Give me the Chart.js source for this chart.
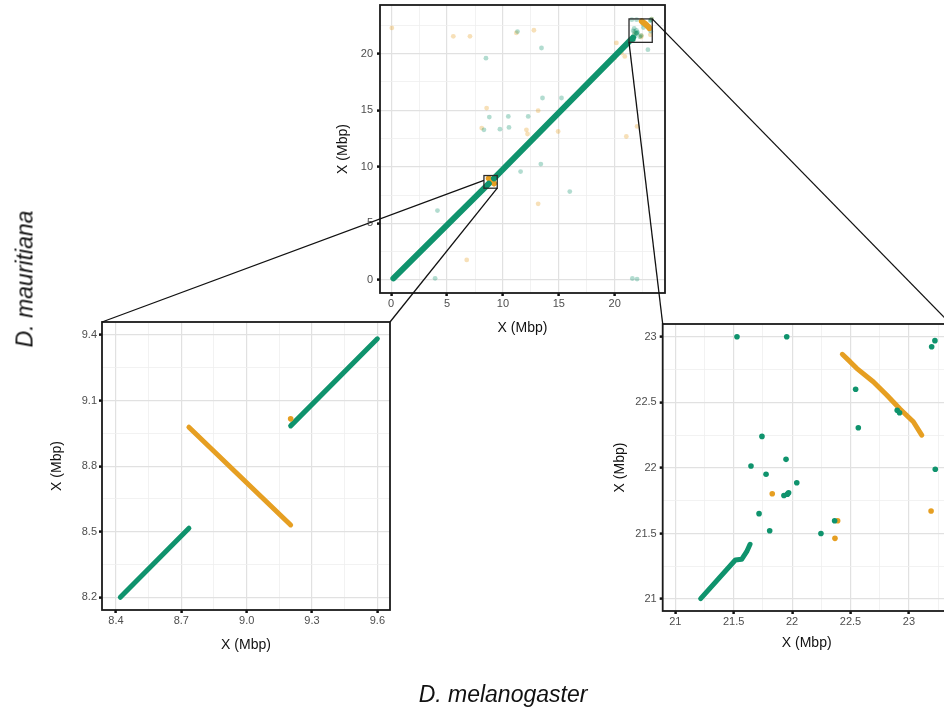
<!DOCTYPE html>
<html>
<head>
<meta charset="utf-8">
<script src="https://cdn.jsdelivr.net/npm/chart.js@4.4.1/dist/chart.umd.min.js"></script>
<style>
  html, body { margin: 0; padding: 0; background: #fff; }
  body { width: 944px; height: 715px; position: relative; overflow: hidden; font-family: "Liberation Sans", Arial, sans-serif; }
  canvas { position: absolute; }
  #topPlot { left: 320px; top: 0px; }
  #leftPlot { left: 40px; top: 310px; }
  #rightPlot { left: 600px; top: 312px; }
  #overlay { left: 0; top: 0; pointer-events: none; }
  .species { position: absolute; font-style: italic; font-size: 23px; color: #111; white-space: nowrap; }
  #yLabel { left: 25px; top: 279px; transform: translate(-50%, -50%) rotate(-90deg); }
  #xLabel { left: 503px; top: 694px; transform: translate(-50%, -50%); }
</style>
</head>
<body>
<canvas id="topPlot" width="360" height="340"></canvas>
<canvas id="leftPlot" width="360" height="355"></canvas>
<canvas id="rightPlot" width="360" height="355"></canvas>
<canvas id="overlay" width="944" height="715"></canvas>
<div class="species" id="yLabel">D. mauritiana</div>
<div class="species" id="xLabel">D. melanogaster</div>
<script>
Chart.defaults.font.family = '"Liberation Sans", Arial, sans-serif';

const GREEN = "#0f936d";
const ORANGE = "#e69f22";
const GREEN_FAINT = "rgba(15, 147, 109, 0.32)";
const ORANGE_FAINT = "rgba(230, 159, 34, 0.32)";

// alignment runs, [D. melanogaster Mbp, D. mauritiana Mbp]
const forwardStart = [[0.2, 0.15], [8.42, 8.2], [8.735, 8.516]];
const smallInversion = [[8.735, 8.978], [9.202, 8.531]];
const forwardMain = [[9.202, 8.984], [9.6, 9.382], [21.217, 21.003], [21.514, 21.298], [21.568, 21.303], [21.611, 21.361], [21.64, 21.418]];
const largeInversion = [[22.43, 22.866], [22.496, 22.81], [22.553, 22.759], [22.695, 22.657], [22.81, 22.556], [22.924, 22.449], [23.038, 22.352], [23.11, 22.25]];

// short hits seen in the zoomed panels
const zoomGreenDots = [
  [21.528, 23.0], [21.954, 23.0], [23.195, 22.924], [23.223, 22.97], [22.544, 22.599], [22.567, 22.306],
  [22.9, 22.44], [22.92, 22.42], [21.742, 22.24], [21.648, 22.014], [21.948, 22.065], [21.777, 21.951],
  [22.04, 21.887], [21.93, 21.79], [21.96, 21.8], [21.97, 21.81], [21.717, 21.651], [21.808, 21.521],
  [22.247, 21.5], [22.364, 21.597], [23.226, 21.99]
];
const zoomOrangeDots = [[21.83, 21.803], [22.39, 21.597], [22.367, 21.463], [23.19, 21.671], [9.202, 9.016]];

// short hits only visible on the whole chromosome
const otherGreenDots = [
  [11.3, 21.95], [13.45, 20.5], [8.48, 19.6], [8.78, 14.4], [10.48, 14.45], [12.26, 14.45], [13.54, 16.08],
  [15.24, 16.08], [8.3, 13.27], [9.73, 13.33], [10.54, 13.48], [11.58, 9.58], [13.39, 10.24], [15.98, 7.81],
  [4.14, 6.13], [3.93, 0.15], [21.58, 0.13], [22.0, 0.08], [22.97, 20.35], [23.3, 23.05]
];
const otherOrangeDots = [
  [0.06, 22.27], [5.56, 21.53], [7.05, 21.53], [11.2, 21.83], [12.77, 22.07], [8.54, 15.19], [13.15, 14.96],
  [8.1, 13.42], [12.1, 13.27], [12.2, 12.9], [14.94, 13.12], [21.04, 12.68], [13.15, 6.73], [6.76, 1.77],
  [15.74, 15.6], [20.15, 20.95], [20.6, 20.06], [20.0, 19.62], [20.9, 19.76], [22.0, 13.57], [23.3, 23.05]
];

// axis limits [xmin, xmax, ymin, ymax]
const topLimits = [-1, 24.5, -1.15, 24.3];
const leftLimits = [8.336, 9.658, 8.142, 9.459];
const rightLimits = [20.892, 23.358, 20.909, 23.097];

// zoomed regions marked on the whole chromosome [xmin, xmax, ymin, ymax]
const leftBox = [8.3, 9.49, 8.11, 9.23];
const rightBox = [21.28, 23.36, 21.0, 23.07];

const topMajor = [0, 5, 10, 15, 20];
const topMinor = [2.5, 7.5, 12.5, 17.5, 22.5];
const leftXMajor = [8.4, 8.7, 9.0, 9.3, 9.6];
const leftXMinor = [8.55, 8.85, 9.15, 9.45];
const leftYMajor = [8.2, 8.5, 8.8, 9.1, 9.4];
const leftYMinor = [8.35, 8.65, 8.95, 9.25];
const rightMajor = [21, 21.5, 22, 22.5, 23];
const rightXMinor = [21.25, 21.75, 22.25, 22.75, 23.25];
const rightYMinor = [21.25, 21.75, 22.25, 22.75];

function toPoints(pairs) {
  return pairs.map((p) => ({ x: p[0], y: p[1] }));
}

function within(pairs, lim) {
  return pairs.filter((p) => p[0] >= lim[0] && p[0] <= lim[1] && p[1] >= lim[2] && p[1] <= lim[3]);
}

function runSet(pairs, color, width) {
  return {
    data: toPoints(pairs),
    showLine: true,
    borderColor: color,
    backgroundColor: color,
    borderWidth: width,
    borderCapStyle: "round",
    borderJoinStyle: "round",
    pointRadius: 0,
    clip: 0,
  };
}

function dotSet(pairs, color, radius) {
  return {
    data: toPoints(pairs),
    showLine: false,
    pointBackgroundColor: color,
    pointBorderWidth: 0,
    pointRadius: radius,
    clip: 0,
  };
}

function isMajor(value, major) {
  return major.some((m) => Math.abs(m - value) < 1e-6);
}

function axis(lim, major, minor, horizontal, size, titlePad, labelPad, fmt) {
  return {
    type: "linear",
    min: horizontal ? lim[0] : lim[2],
    max: horizontal ? lim[1] : lim[3],
    afterBuildTicks: (scale) => {
      scale.ticks = major.concat(minor).sort((a, b) => a - b).map((v) => ({ value: v }));
    },
    afterFit: (scale) => {
      // fixed axis sizes so the panels land where they are in the figure
      if (horizontal) {
        scale.height = size;
        scale.paddingLeft = 0;
        scale.paddingRight = 0;
      } else {
        scale.width = size;
        scale.paddingTop = 0;
        scale.paddingBottom = 0;
      }
    },
    grid: {
      color: (ctx) => (isMajor(ctx.tick.value, major) ? "#e1e1e1" : "#efefef"),
      lineWidth: (ctx) => (isMajor(ctx.tick.value, major) ? 1.2 : 0.8),
      tickColor: (ctx) => (isMajor(ctx.tick.value, major) ? "#111" : "rgba(0,0,0,0)"),
      tickWidth: 2.5,
      tickLength: 3,
    },
    border: { display: false },
    ticks: {
      color: "#4d4d4d",
      font: { size: 11 },
      padding: labelPad,
      autoSkip: false,
      maxRotation: 0,
      callback: (value) => (isMajor(value, major) ? fmt(value) : ""),
    },
    title: {
      display: true,
      text: "X (Mbp)",
      color: "#111",
      font: { size: 14 },
      padding: horizontal ? { top: 0, bottom: titlePad } : { top: titlePad, bottom: 0 },
    },
  };
}

const panelBorder = {
  id: "panelBorder",
  afterDatasetsDraw(chart, args, opts) {
    const { ctx, chartArea: a, scales } = chart;
    ctx.save();
    ctx.strokeStyle = "#1a1a1a";
    ctx.lineWidth = 1.8;
    ctx.strokeRect(a.left, a.top, a.right - a.left, a.bottom - a.top);
    ctx.strokeStyle = "#2b2b2b";
    ctx.lineWidth = 1.3;
    (opts.boxes || []).forEach((b) => {
      const x0 = scales.x.getPixelForValue(b[0]);
      const x1 = scales.x.getPixelForValue(b[1]);
      const y0 = scales.y.getPixelForValue(b[3]);
      const y1 = scales.y.getPixelForValue(b[2]);
      ctx.strokeRect(x0, y0, x1 - x0, y1 - y0);
    });
    ctx.restore();
  },
};

function makePlot(canvasId, datasets, xAxis, yAxis, padding, boxes) {
  return new Chart(document.getElementById(canvasId), {
    type: "scatter",
    data: { datasets: datasets },
    options: {
      responsive: false,
      animation: false,
      devicePixelRatio: 1,
      layout: { padding: padding },
      plugins: {
        legend: { display: false },
        tooltip: { enabled: false },
        panelBorder: { boxes: boxes },
      },
      scales: { x: xAxis, y: yAxis },
    },
    plugins: [panelBorder],
  });
}

const plain = (v) => String(v);
const oneDecimal = (v) => v.toFixed(1);

const topChart = makePlot(
  "topPlot",
  [
    runSet(forwardStart, GREEN, 6),
    runSet(forwardMain, GREEN, 6),
    runSet(smallInversion, ORANGE, 6),
    runSet(largeInversion, ORANGE, 6),
    dotSet(zoomGreenDots, GREEN_FAINT, 2.4),
    dotSet(zoomOrangeDots, ORANGE_FAINT, 2.4),
    dotSet(otherGreenDots, GREEN_FAINT, 2.4),
    dotSet(otherOrangeDots, ORANGE_FAINT, 2.4),
  ],
  axis(topLimits, topMajor, topMinor, true, 47, 3.6, 1, plain),
  axis(topLimits, topMajor, topMinor, false, 60, 14.6, 4, plain),
  { top: 5, right: 15, left: 0, bottom: 0 },
  [leftBox, rightBox]
);

const leftChart = makePlot(
  "leftPlot",
  [
    dotSet(within(zoomOrangeDots, leftLimits), ORANGE, 2.8),
    runSet(within(forwardStart, leftLimits), GREEN, 5),
    runSet(within(forwardMain, leftLimits), GREEN, 5),
    runSet(within(smallInversion, leftLimits), ORANGE, 5),
  ],
  axis(leftLimits, leftXMajor, leftXMinor, true, 55, 11.6, 1, oneDecimal),
  axis(leftLimits, leftYMajor, leftYMinor, false, 62, 8.6, 2, oneDecimal),
  { top: 12, right: 10, left: 0, bottom: 0 },
  []
);

const rightChart = makePlot(
  "rightPlot",
  [
    dotSet(within(zoomGreenDots, rightLimits), GREEN, 2.8),
    dotSet(within(zoomOrangeDots, rightLimits), ORANGE, 2.8),
    runSet(within(forwardMain, rightLimits), GREEN, 5),
    runSet(within(largeInversion, rightLimits), ORANGE, 5),
  ],
  axis(rightLimits, rightMajor, rightXMinor, true, 56, 15.6, 1, plain),
  axis(rightLimits, rightMajor, rightYMinor, false, 62.7, 11.6, 3, plain),
  { top: 12, right: 9.3, left: 0, bottom: 0 },
  []
);

// connector lines between the marked regions and the zoomed panels
function pagePoint(chart, x, y) {
  return [
    chart.canvas.offsetLeft + chart.scales.x.getPixelForValue(x),
    chart.canvas.offsetTop + chart.scales.y.getPixelForValue(y),
  ];
}

function panelCorner(chart, side) {
  const a = chart.chartArea;
  return [chart.canvas.offsetLeft + (side === "left" ? a.left : a.right), chart.canvas.offsetTop + a.top];
}

const overlay = document.getElementById("overlay").getContext("2d");
overlay.strokeStyle = "#111";
overlay.lineWidth = 1.3;

function connect(from, to) {
  overlay.beginPath();
  overlay.moveTo(from[0], from[1]);
  overlay.lineTo(to[0], to[1]);
  overlay.stroke();
}

// first line stops where it meets the left edge of the small box
const leftStart = panelCorner(leftChart, "left");
const leftTarget = pagePoint(topChart, leftBox[1], leftBox[3]);
const boxEdge = pagePoint(topChart, leftBox[0], leftBox[3])[0];
const t = (boxEdge - leftStart[0]) / (leftTarget[0] - leftStart[0]);
connect(leftStart, [boxEdge, leftStart[1] + t * (leftTarget[1] - leftStart[1])]);
connect(panelCorner(leftChart, "right"), pagePoint(topChart, leftBox[1], leftBox[2]));
connect(pagePoint(topChart, rightBox[1], rightBox[3]), panelCorner(rightChart, "right"));
connect(pagePoint(topChart, rightBox[0], rightBox[2]), panelCorner(rightChart, "left"));
</script>
</body>
</html>
